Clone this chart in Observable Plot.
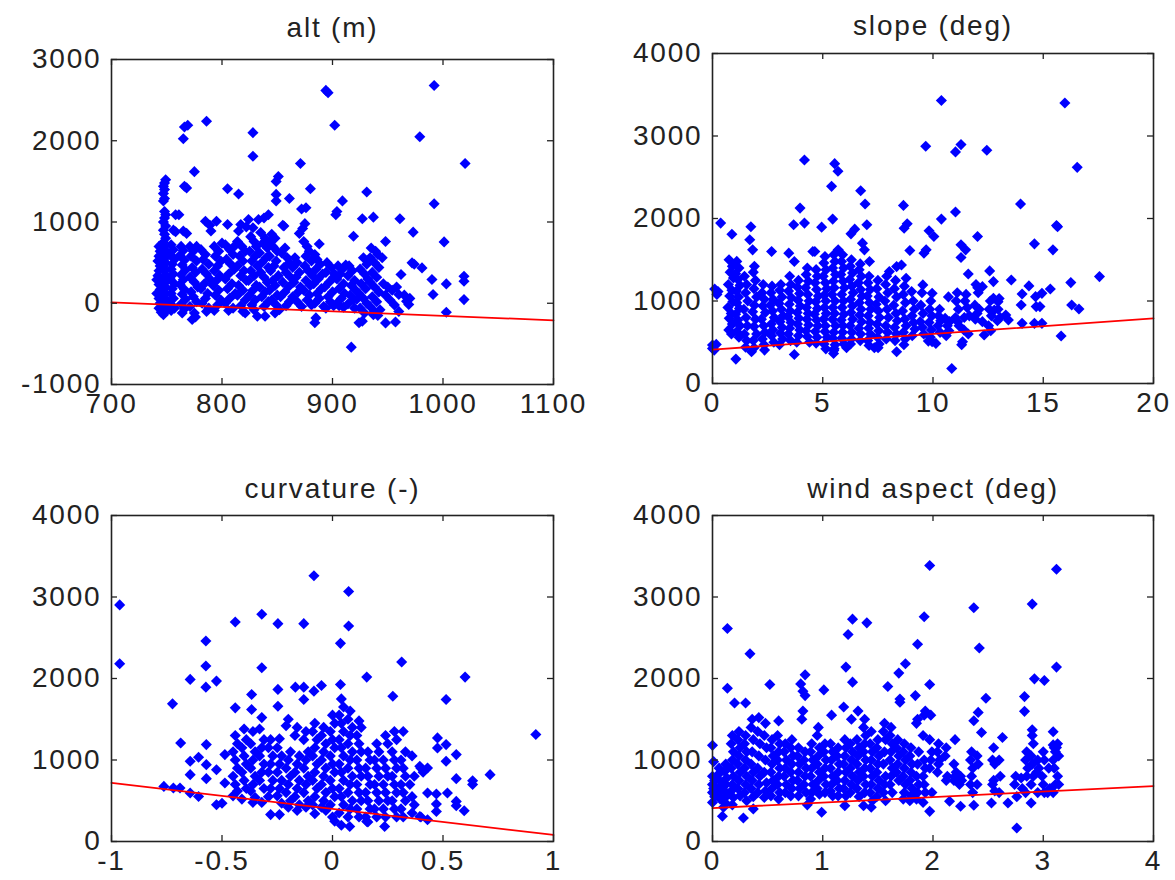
<!DOCTYPE html>
<html><head><meta charset="utf-8">
<script src="https://cdn.jsdelivr.net/npm/d3@7"></script>
<script src="https://cdn.jsdelivr.net/npm/@observablehq/plot@0.6"></script>
<style>
body{margin:0;background:#fff;}
#wrap{position:relative;width:1175px;height:880px;overflow:hidden;background:#fff;}
.cell{position:absolute;}
.cell svg{display:block;}
</style></head><body><div id="wrap"></div>
<script>
// ---------- titles & ticks ----------
const titles = ["alt (m)", "slope (deg)", "curvature (-)", "wind aspect (deg)"];
const altTicksX = [700, 800, 900, 1000, 1100];
const altTicksY = [-1000, 0, 1000, 2000, 3000];
const slopeTicksX = [0, 5, 10, 15, 20];
const curvTicksX = [-1, -0.5, 0, 0.5, 1];
const windTicksX = [0, 1, 2, 3, 4];
const ticksY4000 = [0, 1000, 2000, 3000, 4000];

// ---------- fitted lines (end points) ----------
const altFit = [[700, 10], [1100, -210]];
const slopeFit = [[0, 410], [20, 790]];
const curvFit = [[-1, 720], [1, 80]];
const windFit = [[0, 410], [4, 680]];

// ---------- scatter data ----------
const altPoints = [
[894,2620],[896,2590],[992,2680],[769,2190],[766,2170],[765,2025],[786,2240],[828,2100],[828,1810],[902,2190],[979,2050],[1020,1720],[871,1720],[775,1620],[768,1420],[766,1440],[805,1410],[815,1345],[851,1560],[849,1500],[849,1340],[849,1260],[861,1290],[880,1410],[872,1160],[876,1175],[909,1260],[904,1130],[903,1090],[931,1370],[992,1225],[961,1040],[927,1040],[937,1060],[973,875],[1001,755],[919,825],[888,730],[948,760],
[749,1520],[748,1480],[747,1440],[748,1400],[747,1350],[748,1290],[747,1260],[748,1130],[749,1090],[748,1050],[747,1000],[749,950],[747,900],[748,850],[749,800],[747,750],[748,700],[749,650],[747,600],[748,550],[749,500],[747,450],[748,400],[749,350],[747,300],[748,250],[749,200],[747,150],[748,100],[749,50],[747,0],[748,-50],[749,-100],[747,-140],
[743,700],[744,640],[743,580],[742,520],[744,460],[743,400],[742,340],[741,290],[743,230],[744,170],[741,120],[743,60],[744,0],[743,-60],[745,-110],
[754,720],[756,660],[753,600],[757,540],[755,480],[754,420],[756,360],[753,300],[757,240],[755,180],[754,120],[756,60],[753,0],[757,-60],[754,-90],[756,900],[758,880],[758,1090],[761,1090],
[763,700],[765,650],[762,590],[766,530],[764,470],[767,410],[763,350],[765,290],[762,230],[766,170],[764,110],[767,50],[763,-10],[766,-70],[765,890],[768,860],[764,-120],
[771,700],[774,640],[772,580],[777,520],[773,440],[776,380],[771,320],[775,260],[778,200],[772,140],[774,80],[777,20],[771,-40],[775,-120],[773,-200],[777,700],[776,-170],
[781,660],[785,600],[783,540],[788,480],[782,420],[786,360],[789,300],[784,240],[781,180],[787,120],[785,60],[782,0],[788,-60],[785,1010],[790,890],[789,960],[786,-100],
[795,1010],[793,700],[797,640],[794,580],[799,520],[796,460],[793,400],[798,340],[795,280],[792,220],[797,160],[794,100],[799,40],[796,-20],[793,-90],[800,740],
[805,970],[803,720],[807,660],[810,600],[804,540],[808,480],[811,420],[806,360],[803,300],[809,240],[805,180],[812,120],[807,60],[803,0],[810,-60],[806,-90],[811,700],
[815,890],[817,970],[814,760],[818,700],[821,640],[816,580],[819,520],[814,460],[820,400],[817,340],[822,280],[815,220],[819,160],[814,100],[821,40],[817,-30],[821,-120],[819,-100],[822,940],
[824,1030],[828,930],[826,820],[829,760],[831,700],[825,640],[830,580],[827,520],[832,460],[826,400],[829,340],[824,280],[831,220],[828,160],[825,100],[830,40],[827,-20],[832,-160],[829,-80],
[833,1030],[838,1050],[842,1090],[835,870],[839,800],[837,740],[841,680],[834,620],[840,560],[836,500],[842,440],[835,380],[838,320],[841,260],[834,200],[839,140],[836,80],[842,20],[838,-40],[839,-160],
[845,850],[848,800],[844,760],[846,700],[850,640],[843,580],[849,520],[847,460],[844,400],[851,340],[846,280],[848,220],[843,160],[850,100],[845,40],[849,-20],[848,-120],[852,-80],
[855,960],[857,680],[854,620],[859,560],[861,500],[856,440],[858,380],[862,320],[855,260],[860,200],[857,140],[853,80],[861,20],[858,-30],[856,950],
[866,560],[868,500],[864,440],[870,380],[867,320],[865,260],[871,200],[869,140],[864,80],[868,20],[872,-40],[870,860],[873,920],[875,980],
[874,760],[877,700],[879,640],[876,580],[881,520],[875,460],[878,400],[882,340],[876,280],[880,220],[874,160],[879,100],[877,40],[881,-20],
[884,600],[886,540],[889,480],[885,420],[891,360],[887,300],[883,240],[890,180],[886,120],[888,60],[884,0],[892,-40],[885,-180],[884,-240],
[895,500],[899,440],[894,380],[901,320],[897,260],[893,200],[900,140],[896,80],[898,20],[901,-30],[894,-60],[902,360],
[905,460],[909,420],[912,470],[907,360],[904,300],[910,240],[906,180],[911,120],[908,60],[904,0],[910,-50],[906,-30],
[915,460],[918,400],[914,340],[920,280],[917,220],[921,160],[916,100],[919,40],[914,-10],[920,-60],[917,-540],[922,50],
[924,-240],[927,-220],[928,560],[931,480],[925,420],[929,360],[932,300],[926,240],[930,180],[924,120],[928,60],[931,0],[925,-60],[929,-120],
[935,680],[939,640],[941,600],[934,560],[938,500],[942,440],[936,380],[940,320],[934,260],[938,200],[942,140],[936,80],[940,20],[934,-40],[938,-100],[941,-150],[937,-140],
[946,240],[950,200],[954,160],[948,100],[952,40],[956,-20],[948,-242],[957,-230],[960,-100],[960,107],[967,25],[969,-16],[962,353],[965,100],[970,60],[958,200],[945,560],[943,-80],
[972,497],[974,480],[981,435],[990,292],[991,107],[1003,238],[1003,-111],[1019,45],[1019,333],[1019,271]
];

const slopePoints = [
[10.38,3430],[15.98,3400],[9.67,2875],[11.02,2807],[11.27,2896],[12.44,2827],[4.17,2710],[5.54,2665],[5.69,2572],[5.4,2390],[6.72,2337],[6.92,2175],[3.97,2126],[8.66,2159],[16.54,2620],[13.97,2175],[11.02,2078],[10.38,1993],[5.45,1993],[4.17,1944],[3.68,1924],[4.95,1895],[7.0,1924],[0.37,1944],[0.88,1810],[1.74,1900],[1.69,1742],[1.82,1620],[2.68,1600],[8.83,1936],[8.69,1883],[9.82,1851],[10.04,1782],[12.02,1782],[6.28,1814],[6.45,1871],[6.8,1701],[6.89,1620],[7.12,1478],[9.69,1620],[9.59,1580],[8.95,1612],[11.27,1681],[11.48,1620],[11.27,1527],[14.6,1693],[15.44,1620],[15.6,1916],[15.65,1900],[16.25,1223],[16.29,952],[16.62,903],[17.55,1296],[15.81,575],[10.85,182],[15.32,1146],[13.55,1255],[12.57,1365],[12.74,1235],[11.6,1328],[14.35,1183],[14.04,1085],[14.0,952],[14.65,1053],[14.94,1093],[14.68,932],[14.85,932],[14.6,729],[14.94,729],[14.04,729],[13.42,770],[13.3,830],[12.95,992],[12.78,891],[12.74,1033],[12.32,587],[12.24,750],[12.24,1174],[12.03,1162],[12.1,900],[11.34,506],[11.3,470],[11.4,650],[11.6,600],[11.65,820],
[0,466],[0,425],[0.08,405],[0.17,474],[1.06,296],[1.77,385],[1.89,433],[2.36,405],[3.71,352],[5.49,364],[5.5,400],[6.08,433],[7.34,433],[7.51,433],[8.35,385],[9.96,506],[10.13,486],[9.79,514],
[0.1,1146],[0.25,1114],[0.2,1080],
[0.75,1500],[0.9,1420],[0.8,1350],[0.95,1280],[0.72,1200],[0.88,1130],[0.78,1060],[0.92,990],[0.7,920],[0.85,850],[0.76,790],[0.9,720],[0.74,650],[0.86,600],
[1.1,1480],[1.2,1400],[1.05,1330],[1.15,1260],[1.25,1190],[1.08,1120],[1.18,1050],[1.1,980],[1.22,910],[1.05,840],[1.15,770],[1.25,700],[1.1,630],[1.2,560],
[1.45,1300],[1.55,1200],[1.5,1100],[1.6,1000],[1.42,900],[1.52,800],[1.58,700],[1.45,600],[1.55,520],[1.5,440],
[1.9,1420],[1.85,1350],[1.95,1250],[1.88,1150],[2.0,1050],[1.9,950],[1.82,870],[1.95,780],[1.88,690],[2.0,600],[1.85,520],
[2.3,1200],[2.25,1100],[2.35,1020],[2.28,940],[2.4,860],[2.22,780],[2.32,700],[2.38,620],[2.26,540],[2.34,470],
[2.7,1180],[2.65,1100],[2.75,1020],[2.62,950],[2.72,880],[2.8,800],[2.66,720],[2.74,650],[2.68,580],[2.78,500],
[3.1,1200],[3.05,1130],[3.15,1050],[3.02,970],[3.12,900],[3.2,820],[3.06,750],[3.16,680],[3.08,610],[3.18,540],[3.04,470],
[3.46,1580],[3.5,1300],[3.55,1200],[3.45,1120],[3.58,1040],[3.48,960],[3.52,880],[3.42,810],[3.56,740],[3.5,670],[3.44,600],[3.54,520],
[3.71,1478],[3.9,1250],[3.85,1170],[3.95,1090],[3.88,1010],[3.98,940],[3.84,860],[3.92,790],[3.86,720],[3.96,650],[3.9,580],[3.82,500],
[4.3,1400],[4.25,1320],[4.35,1240],[4.22,1160],[4.32,1080],[4.38,1000],[4.26,920],[4.34,850],[4.28,780],[4.36,710],[4.24,640],[4.3,570],[4.4,500],
[4.64,1600],[4.55,1600],[4.7,1380],[4.75,1300],[4.65,1220],[4.72,1140],[4.8,1060],[4.68,990],[4.76,910],[4.62,840],[4.72,770],[4.78,700],[4.66,630],[4.74,560],[4.7,490],
[5.1,1540],[5.05,1460],[5.15,1380],[5.02,1300],[5.12,1220],[5.18,1150],[5.06,1070],[5.14,1000],[5.08,920],[5.16,850],[5.04,780],[5.12,700],[5.1,630],[5.2,560],[5.06,480],[5.14,420],
[5.7,1620],[5.5,1560],[5.55,1480],[5.45,1400],[5.58,1320],[5.48,1240],[5.52,1160],[5.42,1080],[5.56,1000],[5.46,920],[5.54,850],[5.44,780],[5.58,700],[5.5,620],[5.46,550],[5.56,470],[5.52,420],
[5.9,1560],[5.85,1480],[5.95,1400],[5.82,1320],[5.92,1240],[5.98,1160],[5.86,1080],[5.94,1000],[5.88,920],[5.96,840],[5.84,770],[5.92,700],[5.9,620],[5.86,550],[5.96,480],
[6.3,1500],[6.25,1420],[6.35,1340],[6.22,1260],[6.32,1180],[6.38,1100],[6.26,1020],[6.34,940],[6.28,860],[6.36,780],[6.24,700],[6.32,620],[6.3,540],[6.26,480],
[6.7,1450],[6.65,1380],[6.75,1300],[6.62,1220],[6.72,1140],[6.78,1060],[6.66,980],[6.74,900],[6.68,830],[6.76,750],[6.64,670],[6.72,600],[6.7,520],
[7.1,1300],[7.05,1220],[7.15,1140],[7.02,1060],[7.12,980],[7.18,900],[7.06,820],[7.14,740],[7.08,670],[7.16,600],[7.04,520],[7.1,460],
[7.5,1250],[7.45,1150],[7.55,1050],[7.42,960],[7.52,880],[7.58,800],[7.46,720],[7.54,640],[7.48,560],[7.56,480],
[7.9,1300],[7.85,1200],[7.95,1100],[7.82,1000],[7.92,900],[7.98,800],[7.86,700],[7.94,620],[7.88,540],
[8.35,1417],[8.02,1357],[8.3,1250],[8.25,1150],[8.35,1050],[8.22,950],[8.32,850],[8.38,760],[8.26,680],[8.34,600],[8.28,520],
[8.57,1437],[8.78,1276],[8.7,1180],[8.65,1080],[8.75,980],[8.62,880],[8.72,780],[8.78,700],[8.66,620],[8.74,540],[8.68,470],
[9.03,1114],[9.1,1000],[9.15,900],[9.05,820],[9.12,740],[9.18,660],[9.06,580],
[9.54,1195],[9.5,1100],[9.45,950],[9.55,850],[9.42,750],[9.52,680],[9.58,600],
[9.96,1093],[9.9,1000],[9.85,900],[9.95,820],[9.82,740],[9.92,650],[9.88,560],
[10.3,900],[10.25,820],[10.35,760],[10.22,700],[10.32,620],
[10.7,1050],[10.55,790],[10.75,750],[10.65,700],[10.72,640],[10.6,580],
[11.1,1100],[11.05,1000],[11.15,900],[11.02,800],[11.12,750],[11.18,700],
[11.5,1080],[11.45,1000],[11.55,920],[11.42,800],
[11.95,1200],[12.05,1100],[11.9,950],[12.0,850],[11.92,780],
[12.6,1000],[12.55,900],[12.65,820],[12.52,700],[12.62,640],
[13.0,1030],[12.95,900],[13.05,800],[12.92,760]
];

const curvPoints = [
[-0.963,2903],[-0.963,2181],[-0.084,3260],[0.073,3067],[0.073,2645],[0.036,2431],[-0.32,2788],[-0.44,2694],[-0.247,2673],[-0.13,2673],[-0.573,2460],[-0.573,2153],[-0.32,2132],[-0.644,1989],[-0.525,1968],[-0.573,1894],[-0.724,1689],[0.313,2202],[0.6,2017],[0.155,2017],[0.92,1312],[0.713,820],[0.634,746],[0.634,700],[0.514,1743],[0.56,1066],[0.56,771],[0.514,984],[0.514,1189],[0.475,1271],[0.475,1148],[0.596,377],[0.56,440],[0.56,492],[0.52,595],[0.47,582],[0.47,459],[0.47,369],[0.43,595],[0.43,266],[0.43,902],[0.395,922],[0.395,307],[0.273,1783],[0.036,1927],[-0.05,1915],[-0.084,1845],[-0.13,1894],[-0.168,1894],[-0.13,1742],[-0.247,1866],[-0.247,1660],[-0.366,1804],[-0.366,1619],[-0.44,1640],[-0.687,1209],[-0.571,1189],[-0.606,1033],[-0.644,984],[-0.644,820],[-0.571,943],[-0.525,881],[-0.571,771],[-0.487,717],[-0.487,1066],[-0.763,676],[-0.72,656],[-0.69,656],[-0.644,595],[-0.606,553],[-0.525,451],[-0.5,470],[0.078,184],[0.155,246],
[-0.44,1300],[-0.43,1200],[-0.45,1100],[-0.44,1000],[-0.43,900],[-0.45,800],[-0.44,700],[-0.43,620],[-0.45,560],
[-0.4,1380],[-0.39,1250],[-0.41,1150],[-0.4,1050],[-0.39,950],[-0.41,850],[-0.4,750],[-0.39,650],[-0.41,520],
[-0.36,1350],[-0.37,1200],[-0.35,1100],[-0.36,1000],[-0.37,900],[-0.35,800],[-0.36,700],[-0.37,620],[-0.35,540],[-0.36,480],
[-0.32,1520],[-0.33,1380],[-0.31,1250],[-0.32,1150],[-0.33,1050],[-0.31,950],[-0.32,850],[-0.33,750],[-0.31,650],[-0.32,480],
[-0.28,1250],[-0.29,1150],[-0.27,1050],[-0.28,950],[-0.29,850],[-0.27,750],[-0.28,650],[-0.29,550],[-0.28,330],
[-0.24,1260],[-0.25,1150],[-0.23,1050],[-0.24,950],[-0.25,850],[-0.23,750],[-0.24,650],[-0.25,560],[-0.23,470],[-0.24,330],
[-0.2,1500],[-0.21,1420],[-0.19,1100],[-0.2,1000],[-0.21,900],[-0.19,800],[-0.2,700],[-0.21,600],[-0.19,500],[-0.2,420],
[-0.16,1400],[-0.17,1300],[-0.15,1050],[-0.16,950],[-0.17,850],[-0.15,750],[-0.16,650],[-0.17,550],[-0.15,450],[-0.16,380],
[-0.12,1350],[-0.13,1250],[-0.11,1100],[-0.12,1000],[-0.13,900],[-0.11,800],[-0.12,700],[-0.13,600],[-0.11,500],[-0.12,420],
[-0.08,1450],[-0.09,1350],[-0.07,1250],[-0.08,1150],[-0.09,1050],[-0.07,950],[-0.08,850],[-0.09,750],[-0.07,650],[-0.08,550],[-0.09,450],[-0.08,340],
[-0.04,1400],[-0.05,1300],[-0.03,1200],[-0.04,1100],[-0.05,1000],[-0.03,900],[-0.04,800],[-0.05,700],[-0.03,600],[-0.04,500],[-0.05,420],[-0.03,380],
[0,1550],[0.01,1450],[-0.01,1350],[0,1250],[0.01,1150],[-0.01,1050],[0,950],[0.01,850],[-0.01,750],[0,650],[0.01,550],[-0.01,450],[0,300],[0.01,250],
[0.04,1750],[0.05,1650],[0.03,1550],[0.04,1450],[0.05,1350],[0.03,1250],[0.04,1150],[0.05,1050],[0.03,950],[0.04,850],[0.05,750],[0.03,650],[0.04,550],[0.05,450],[0.03,350],[0.04,200],
[0.08,1600],[0.07,1500],[0.09,1400],[0.08,1300],[0.07,1200],[0.09,1100],[0.08,1000],[0.07,900],[0.09,800],[0.08,700],[0.07,600],[0.09,500],[0.08,400],[0.07,300],
[0.12,1480],[0.13,1400],[0.11,1300],[0.12,1200],[0.13,1100],[0.11,1000],[0.12,900],[0.13,800],[0.11,700],[0.12,600],[0.13,500],[0.11,400],[0.12,300],
[0.16,1100],[0.17,1000],[0.15,900],[0.16,800],[0.17,700],[0.15,600],[0.16,500],[0.17,400],[0.15,300],[0.16,240],
[0.2,1200],[0.21,1100],[0.19,1000],[0.2,900],[0.21,800],[0.19,700],[0.2,600],[0.21,500],[0.19,400],[0.2,300],
[0.24,1300],[0.25,1200],[0.23,1000],[0.24,900],[0.25,800],[0.23,700],[0.24,600],[0.25,500],[0.23,400],[0.24,300],[0.236,184],
[0.28,1350],[0.29,1250],[0.27,1100],[0.28,1000],[0.29,900],[0.27,800],[0.28,700],[0.29,600],[0.27,500],[0.28,400],[0.29,300],
[0.32,1350],[0.33,1100],[0.31,1000],[0.32,900],[0.33,800],[0.31,700],[0.32,600],[0.33,500],[0.31,400],[0.32,300],
[0.36,1050],[0.37,800],[0.35,700],[0.36,550],[0.37,450],[0.36,350],
[0.4,900],[0.41,850],[0.4,300]
];

const windPoints = [
[1.97,3387],[3.12,3341],[2.37,2868],[2.9,2913],[1.92,2757],[1.27,2728],[1.4,2683],[1.23,2539],[0.135,2613],[0.34,2304],[1.86,2420],[2.42,2374],[3.12,2140],[1.21,2140],[0.84,2045],[1.75,2181],[1.69,2066],[2.92,1996],[3.01,1975],[1.27,1955],[0.52,1926],[1.01,1860],[0.8,1934],[0.82,1843],[0.84,1790],[0.135,1881],[1.97,1926],[1.59,1901],[1.84,1790],[1.7,1749],[1.7,1708],[2.48,1757],[2.83,1778],[2.83,1597],[2.41,1584],[2.37,1481],[2.44,1337],[2.63,1276],[2.9,1370],[3.09,1346],[3.09,1185],[3.12,1152],[2.89,473],[2.76,165],[2.68,473],[2.53,473],[2.37,444],[2.25,432],[2.15,494],[1.97,370],[0.99,358],[0.28,288],[0.09,309],
[0.0,1180],[0.01,980],[0.0,800],[0.02,750],[0.0,700],[0.01,650],[0.0,600],[0.02,550],[0.0,480],
[0.06,900],[0.05,820],[0.07,740],[0.06,660],[0.05,580],[0.07,520],[0.1,420],
[0.12,950],[0.11,860],[0.13,780],[0.12,700],[0.11,620],[0.13,560],[0.12,470],
[0.18,1300],[0.17,1200],[0.19,1100],[0.18,1000],[0.17,900],[0.19,800],[0.18,700],[0.17,620],[0.19,540],[0.18,450],
[0.2,1700],[0.24,1350],[0.23,1250],[0.25,1150],[0.24,1050],[0.23,950],[0.25,850],[0.24,750],[0.23,650],[0.25,560],
[0.3,1700],[0.3,1300],[0.29,1200],[0.31,1100],[0.3,1000],[0.29,900],[0.31,800],[0.3,700],[0.29,600],[0.31,500],
[0.36,1500],[0.35,1400],[0.37,1250],[0.36,1100],[0.35,950],[0.37,850],[0.36,750],[0.35,650],[0.37,550],[0.37,400],
[0.42,1520],[0.41,1350],[0.43,1200],[0.42,1050],[0.41,900],[0.43,800],[0.42,700],[0.41,600],
[0.48,1450],[0.47,1300],[0.49,1150],[0.48,1000],[0.47,850],[0.49,720],[0.48,620],[0.47,540],
[0.54,1250],[0.53,1150],[0.55,1050],[0.54,950],[0.53,850],[0.55,750],[0.54,650],[0.53,560],
[0.6,1480],[0.59,1300],[0.61,1200],[0.6,1100],[0.59,1000],[0.61,900],[0.6,800],[0.59,700],[0.61,600],[0.6,520],
[0.66,1200],[0.65,1100],[0.67,1000],[0.66,900],[0.65,800],[0.67,700],[0.66,600],
[0.72,1250],[0.71,1150],[0.73,1050],[0.72,950],[0.71,850],[0.73,750],[0.72,650],[0.71,560],
[0.78,1150],[0.77,1050],[0.79,950],[0.78,850],[0.77,750],[0.79,650],[0.78,560],
[0.82,1600],[0.81,1500],[0.84,1100],[0.83,1000],[0.85,900],[0.84,800],[0.83,700],[0.85,600],[0.86,450],
[0.9,1200],[0.89,1100],[0.91,1000],[0.9,900],[0.89,800],[0.91,700],[0.9,600],[0.89,520],
[0.96,1400],[0.95,1300],[0.97,1150],[0.96,1050],[0.95,950],[0.97,850],[0.96,750],[0.95,650],[0.97,580],
[1.02,1200],[1.01,1100],[1.03,1000],[1.02,900],[1.01,800],[1.03,700],[1.02,600],
[1.08,1550],[1.07,1200],[1.09,1100],[1.08,1000],[1.07,900],[1.09,800],[1.08,700],[1.07,620],[1.09,560],
[1.14,1150],[1.13,1050],[1.15,950],[1.14,850],[1.13,750],[1.15,650],[1.14,560],
[1.19,1650],[1.2,1250],[1.21,1150],[1.2,1050],[1.19,950],[1.21,850],[1.2,750],[1.19,650],[1.21,560],[1.2,440],
[1.26,1500],[1.25,1200],[1.27,1100],[1.26,1000],[1.25,900],[1.27,800],[1.26,700],[1.25,600],
[1.32,1600],[1.31,1250],[1.33,1150],[1.32,1050],[1.31,950],[1.33,850],[1.32,750],[1.31,650],[1.33,550],
[1.38,1500],[1.37,1400],[1.39,1300],[1.38,1200],[1.37,1100],[1.39,1000],[1.38,900],[1.37,800],[1.39,700],[1.38,600],[1.37,440],
[1.44,1350],[1.43,1200],[1.45,1100],[1.44,1000],[1.43,900],[1.45,800],[1.44,700],[1.43,600],[1.45,500],[1.44,420],
[1.5,1250],[1.49,1150],[1.51,1050],[1.5,950],[1.49,850],[1.51,750],[1.5,650],[1.49,550],
[1.56,1450],[1.55,1350],[1.57,1250],[1.56,1100],[1.55,950],[1.57,800],[1.56,700],[1.55,600],[1.57,500],
[1.62,1400],[1.61,1300],[1.63,1200],[1.62,1100],[1.61,1000],[1.63,900],[1.62,800],[1.61,700],[1.63,600],
[1.68,1250],[1.67,1150],[1.69,1050],[1.68,950],[1.67,850],[1.69,750],
[1.74,1200],[1.73,1100],[1.75,1000],[1.74,900],[1.73,800],[1.75,700],[1.74,600],[1.73,520],
[1.8,1150],[1.79,1050],[1.81,950],[1.8,850],[1.79,750],[1.81,650],[1.8,560],[1.79,500],
[1.86,1500],[1.85,1450],[1.87,1100],[1.86,950],[1.85,800],[1.87,700],[1.86,600],[1.85,520],
[1.93,1600],[1.92,1550],[1.91,1300],[1.92,1000],[1.93,900],[1.91,800],[1.92,700],[1.93,600],[1.91,480],
[1.98,1550],[1.97,1250],[1.99,1100],[1.98,1000],[1.97,900],[1.99,600],
[2.05,1200],[2.04,1100],[2.06,1000],[2.05,950],[2.04,850],
[2.12,1150],[2.11,1050],[2.13,800],[2.12,750],
[2.2,1250],[2.19,950],[2.21,850],[2.2,800],[2.19,750],
[2.25,800],[2.26,750],[2.24,700],
[2.35,1100],[2.34,1000],[2.36,900],[2.35,800],[2.34,700],[2.36,600],
[2.4,1050],[2.41,950],[2.4,700],
[2.55,1150],[2.54,1000],[2.56,950],[2.55,750],[2.54,700],[2.56,620],
[2.6,1000],[2.61,800],[2.6,600],
[2.75,800],[2.74,700],[2.76,550],
[2.8,780],[2.81,650],
[2.85,1100],[2.84,1000],[2.86,900],[2.85,800],[2.84,600],
[2.9,1300],[2.91,1200],[2.89,1050],[2.9,950],[2.91,800],[2.89,700],
[2.95,1000],[2.96,900],[2.94,850],[2.95,600],
[3.0,1100],[3.01,1000],[2.99,800],[3.0,700],[3.01,600],
[3.05,900],[3.06,650],[3.04,600],
[3.1,1150],[3.11,1100],[3.09,1000],[3.1,900],[3.11,700],[3.09,600],
[3.13,1200],[3.14,1050],[3.13,800],[3.14,700]
];

// ---------- layout ----------
const panels = [
  {title: titles[0], pts: altPoints, fit: altFit, xd: [700, 1100], yd: [-1000, 3000], xt: altTicksX, yt: altTicksY,
   left: 0, top: 0, w: 587, h: 440, ml: 111, mr: 34, mt: 59, mb: 56, tdy: -31},
  {title: titles[1], pts: slopePoints, fit: slopeFit, xd: [0, 20], yd: [0, 4000], xt: slopeTicksX, yt: ticksY4000,
   left: 587, top: 0, w: 588, h: 440, ml: 125, mr: 22, mt: 53, mb: 57, tdy: -27},
  {title: titles[2], pts: curvPoints, fit: curvFit, xd: [-1, 1], yd: [0, 4000], xt: curvTicksX, yt: ticksY4000,
   left: 0, top: 440, w: 587, h: 440, ml: 111, mr: 34, mt: 75, mb: 39, tdy: -26},
  {title: titles[3], pts: windPoints, fit: windFit, xd: [0, 4], yd: [0, 4000], xt: windTicksX, yt: ticksY4000,
   left: 587, top: 440, w: 588, h: 440, ml: 125, mr: 22, mt: 75, mb: 39, tdy: -26}
];

const FONT = "'Liberation Sans', Arial, Helvetica, sans-serif";
const INK = "#222";
const wrap = document.getElementById("wrap");

for (const p of panels) {
  const innerW = p.w - p.ml - p.mr;
  const innerH = p.h - p.mt - p.mb;
  const fmt = d => String(d);
  const chart = Plot.plot({
    width: p.w, height: p.h,
    marginLeft: p.ml, marginRight: p.mr, marginTop: p.mt, marginBottom: p.mb,
    x: {domain: p.xd},
    y: {domain: p.yd},
    style: {fontFamily: FONT, fontSize: "28px", color: INK, background: "white", overflow: "visible", letterSpacing: "1.8px"},
    marks: [
      Plot.dot(p.pts, {x: d => d[0], y: d => d[1], symbol: "diamond2", r: 5, fill: "#0000ff", stroke: "none"}),
      Plot.line(p.fit, {x: d => d[0], y: d => d[1], stroke: "#ff0000", strokeWidth: 1.8}),
      Plot.frame({stroke: INK, strokeWidth: 1.6}),
      Plot.tickX(p.xt, {x: d => d, insetTop: innerH - 6, stroke: INK, strokeWidth: 1.3}),
      Plot.tickX(p.xt, {x: d => d, insetBottom: innerH - 6, stroke: INK, strokeWidth: 1.3}),
      Plot.tickY(p.yt, {y: d => d, insetRight: innerW - 6, stroke: INK, strokeWidth: 1.3}),
      Plot.tickY(p.yt, {y: d => d, insetLeft: innerW - 6, stroke: INK, strokeWidth: 1.3}),
      Plot.axisX({ticks: p.xt, tickSize: 0, tickPadding: 9, fontSize: 28, tickFormat: fmt, label: null}),
      Plot.axisY({ticks: p.yt, tickSize: 0, tickPadding: 10, fontSize: 28, tickFormat: fmt, label: null}),
      Plot.text([p.title], {text: d => d, frameAnchor: "top", lineAnchor: "middle", dy: p.tdy, fontSize: 28, fill: INK})
    ]
  });
  const cell = document.createElement("div");
  cell.className = "cell";
  cell.style.left = p.left + "px";
  cell.style.top = p.top + "px";
  cell.appendChild(chart);
  wrap.appendChild(cell);
}
</script></body></html>
